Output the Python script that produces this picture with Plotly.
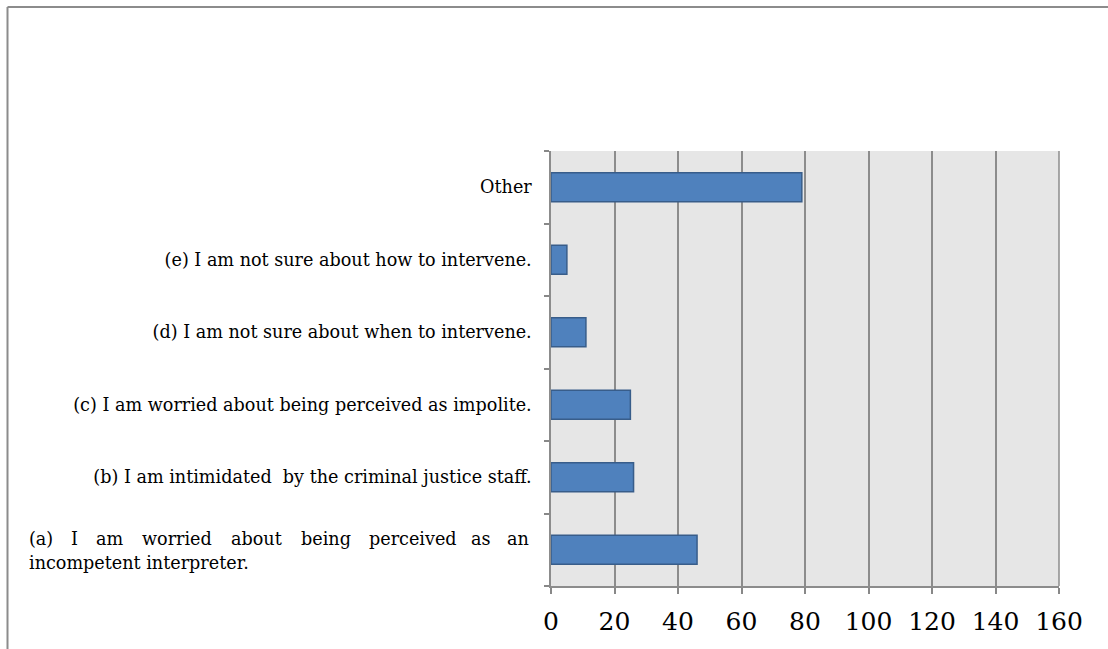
import plotly.graph_objects as go

categories = [
    "(a) I am worried about being perceived as an incompetent interpreter.",
    "(b) I am intimidated  by the criminal justice staff.",
    "(c) I am worried about being perceived as impolite.",
    "(d) I am not sure about when to intervene.",
    "(e) I am not sure about how to intervene.",
    "Other",
]
values = [46, 26, 25, 11, 5, 79]
tick_labels = ["", "(b) I am intimidated\u00a0 by the criminal justice staff.",
               "(c) I am worried about being perceived as impolite.",
               "(d) I am not sure about when to intervene.",
               "(e) I am not sure about how to intervene.",
               "Other"]
a_line1_words = ["(a)", "I", "am", "worried", "about", "being", "perceived", "as", "an"]
a_line2 = "incompetent interpreter."
x_ticks = [0, 20, 40, 60, 80, 100, 120, 140, 160]

W, H = 1108, 649
ML, MR, MT, MB = 551, 49, 151, 63
PW = W - ML - MR
PH = H - MT - MB

FONT = "DejaVu Serif"
YS = 17.6

fig = go.Figure()
fig.add_trace(go.Bar(
    y=categories, x=values, orientation="h",
    marker=dict(color="#4f81bd", line=dict(color="#385d8a", width=1.5)),
    width=0.4,
))

fig.update_layout(
    width=W, height=H,
    margin=dict(l=ML, r=MR, t=MT, b=MB),
    paper_bgcolor="white", plot_bgcolor="#e6e6e6",
    showlegend=False,
    font=dict(family=FONT, color="black"),
    xaxis=dict(
        range=[0, 160], tickvals=x_ticks, ticks="outside", ticklen=6, tickwidth=1.5,
        tickcolor="#888888", showgrid=True, gridcolor="#8c8c8c", gridwidth=1.5,
        showline=True, linecolor="#8c8c8c", linewidth=1.5, zeroline=False,
        tickfont=dict(size=25, family=FONT), fixedrange=True, ticklabelstandoff=6,
    ),
    yaxis=dict(
        type="category", categoryorder="array", categoryarray=categories,
        tickvals=categories, ticktext=tick_labels,
        ticks="outside", tickson="boundaries", ticklen=5, tickwidth=1.5,
        tickcolor="#888888", showline=True, linecolor="#8c8c8c", linewidth=1.5,
        showgrid=False, tickfont=dict(size=YS, family=FONT), ticklabelstandoff=14,
    ),
)

# right border of plot area
fig.add_shape(type="line", xref="x domain", yref="y domain", x0=1, x1=1, y0=0, y1=1,
              line=dict(color="#8c8c8c", width=1.5))

# outer frame (left and top edges)
fx = (7.5 - ML) / PW
fy = 1 + (MT - 7) / PH
fig.add_shape(type="line", xref="paper", yref="paper", x0=fx, x1=fx, y0=-MB / PH - 0.01, y1=fy,
              line=dict(color="#8c8c8c", width=2))
fig.add_shape(type="line", xref="paper", yref="paper", x0=fx, x1=1 + MR / PW + 0.01, y0=fy, y1=fy,
              line=dict(color="#8c8c8c", width=2))

# justified two-line label for (a)
x_pos = [27, 68.5, 93.5, 140, 229, 299, 366.5, 469, 531]
n = len(a_line1_words)
for i, (w, px) in enumerate(zip(a_line1_words, x_pos)):
    anchor = "right" if i == n - 1 else "left"
    fig.add_annotation(text=w, xref="paper", yref="y", x=(px - ML) / PW, y=categories[0],
                       xanchor=anchor, yanchor="bottom", yshift=-1, showarrow=False,
                       font=dict(size=YS, family=FONT))
fig.add_annotation(text=a_line2, xref="paper", yref="y", x=(27 - ML) / PW, y=categories[0],
                   xanchor="left", yanchor="top", yshift=-1, showarrow=False,
                   font=dict(size=YS, family=FONT))

fig.write_html("out.html", config={"displayModeBar": False})
